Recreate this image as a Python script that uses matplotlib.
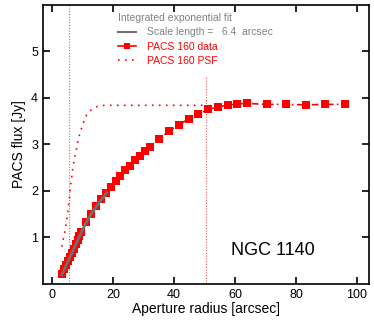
import matplotlib
matplotlib.use("Agg")
from matplotlib import pyplot as plt
from matplotlib.lines import Line2D

plt.rcParams['font.family'] = ['Liberation Sans', 'DejaVu Sans']

# данные PACS 160: радиус апертуры [arcsec] и поток [Jy]
radius = [3.2, 3.84, 4.48, 5.12, 5.76, 6.4, 7.04, 7.68, 8.32, 8.96, 9.6,
          11.2, 12.8, 14.4, 16.0, 17.6, 19.2, 20.8, 22.4, 24.0, 25.6, 27.2,
          28.8, 30.4, 32.0, 35.2, 38.4, 41.6, 44.8, 48.0, 51.2, 54.4, 57.6,
          60.8, 64.0, 70.4, 76.8, 83.2, 89.6, 96.0]
flux = [0.22, 0.31, 0.40, 0.49, 0.58, 0.67, 0.76, 0.85, 0.94, 1.03, 1.12,
        1.33, 1.51, 1.68, 1.82, 1.95, 2.09, 2.21, 2.33, 2.44, 2.54, 2.66,
        2.76, 2.86, 2.95, 3.12, 3.29, 3.42, 3.55, 3.66, 3.75, 3.81, 3.84,
        3.87, 3.88, 3.86, 3.86, 3.85, 3.86, 3.86]

# PSF
psf_r = [3.2, 3.6, 4.1, 4.5, 4.8, 5.1, 5.4, 5.7, 5.9, 6.1, 6.4, 6.7, 7.1,
         7.5, 8.0, 8.4, 9.0, 9.6, 10.4, 11.3, 12.8, 14.9, 17.2, 50.0]
psf_f = [0.80, 0.95, 1.10, 1.25, 1.40, 1.55, 1.70, 1.86, 2.01, 2.15, 2.29,
         2.45, 2.61, 2.75, 2.91, 3.05, 3.21, 3.34, 3.49, 3.63, 3.74, 3.82,
         3.84, 3.84]

# интегрированная экспоненциальная аппроксимация
fit_r = [3.2, 5.0, 7.0, 9.0, 11.0, 13.0, 15.0, 17.9]
fit_f = [0.20, 0.46, 0.74, 1.03, 1.30, 1.52, 1.71, 1.96]

vline_x = [5.6, 50.6]
vline_top = [6.0, 4.47]

fig = plt.figure(figsize=(3.74, 3.23), dpi=100)
ax = fig.add_axes([0.115, 0.121, 0.872, 0.864])

red = '#ff0000'
ax.plot(psf_r, psf_f, color=red, lw=1.2, ls=(0, (1, 3.2)), zorder=2)
ax.plot(radius, flux, color=red, lw=1.2, ls=(0, (4, 2, 1, 2)),
        marker='s', markersize=5.6, markeredgewidth=0, zorder=3)
ax.plot(fit_r, fit_f, color='#707070', lw=2, zorder=4)
for xv, top in zip(vline_x, vline_top):
    ax.plot([xv, xv], [0, top], color='#ff5050', lw=0.8, ls=(0, (1, 1.5)), zorder=1)

ax.set_xlim(-3, 104)
ax.set_ylim(0, 6)
ax.set_xticks([0, 20, 40, 60, 80, 100])
ax.set_yticks([1, 2, 3, 4, 5])
ax.tick_params(direction='in', length=5, width=1.2, labelsize=9,
               top=True, right=True)
for s in ax.spines.values():
    s.set_linewidth(1.2)
ax.set_xlabel("Aperture radius [arcsec]", fontsize=10, labelpad=1)
ax.set_ylabel("PACS flux [Jy]", fontsize=10, labelpad=4)

ax.text(0.705, 0.12, "NGC 1140", transform=ax.transAxes, fontsize=13,
        ha='center', va='center')

handles = [Line2D([], [], color='#707070', lw=1.5),
           Line2D([], [], color=red, lw=1.2, marker='s', markersize=5,
                  markeredgewidth=0),
           Line2D([], [], color=red, lw=1.2, ls=(0, (1, 3.2)))]
labels = ["Scale length =   6.4  arcsec", "PACS 160 data", "PACS 160 PSF"]
leg = ax.legend(handles, labels, title="Integrated exponential fit",
                loc='upper left', bbox_to_anchor=(0.213, 0.99),
                frameon=False, fontsize=7.5, title_fontsize=7.5,
                handlelength=1.8, handletextpad=1.0, labelspacing=0.42,
                borderpad=0, alignment='left')
leg.get_title().set_color('#808080')
txts = leg.get_texts()
txts[0].set_color('#808080')
txts[1].set_color(red)
txts[2].set_color(red)

fig.savefig("out.png", dpi=100)
